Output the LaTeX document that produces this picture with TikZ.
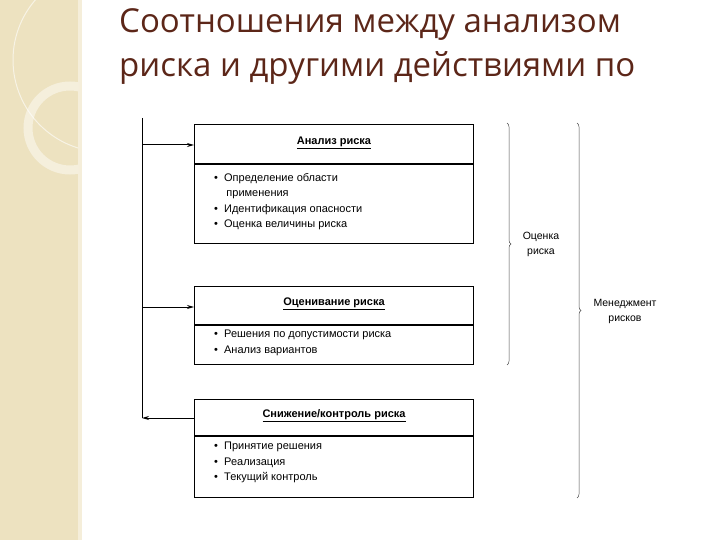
\documentclass[tikz,border=0pt]{standalone}
\usepackage{fontspec}
\setmainfont{Liberation Sans}
\newfontfamily\titlefont{Open Sans}
\usetikzlibrary{decorations.pathreplacing,arrows.meta}
\definecolor{titlec}{RGB}{92,38,24}
\definecolor{panel}{RGB}{237,226,192}
\definecolor{panelb}{RGB}{245,238,218}
\begin{document}
\begin{tikzpicture}[x=1pt,y=-1pt,
  boxr/.style={draw,line width=1.2pt},
  ttl/.style={font=\titlefont\fontsize{33}{38}\selectfont,text=titlec,anchor=west,inner sep=0pt},
  arr/.style={line width=1pt,-{Stealth[length=7pt,width=4pt]}},
  lbl/.style={font=\fontsize{11}{15.5}\selectfont,align=left,anchor=north west,inner sep=0pt},
  hd/.style={font=\fontsize{11}{13}\selectfont\bfseries,inner sep=1pt},
  brc/.style={decorate,decoration={brace,amplitude=4pt},line width=0.5pt,draw=black!70}]
\useasboundingbox (0,0) rectangle (720,540);
\fill[white] (0,0) rectangle (720,540);
\fill[panel] (0,0) rectangle (78,540);
\fill[panelb] (78,0) rectangle (82,540);
\begin{scope}
\clip (0,0) rectangle (78,540);
\draw[white,opacity=0.6,line width=1pt] (105,60) circle (92);
\draw[white,opacity=0.45,line width=9pt] (70,128) circle (42);
\end{scope}
\node[ttl] (t1) at (119,25) {Соотношения между анализом};
\node[ttl] (t2) at (119,68) {риска и другими действиями по};
% boxes
\node[boxr,minimum width=279pt,minimum height=119pt,anchor=north west,inner sep=0pt] (b1) at (194,124) {};
\draw[line width=1.2pt] (194,164) -- (473,164);
\node[hd] (h1) at (334,143) {\underline{Анализ риска}};
\node[lbl] (l1) at (214,173) {•\ \ Определение области\\\ \ \ \ применения\\•\ \ Идентификация опасности\\•\ \ Оценка величины риска};
\node[boxr,minimum width=279pt,minimum height=78pt,anchor=north west,inner sep=0pt] (b2) at (194,286) {};
\draw[line width=1.2pt] (194,325) -- (473,325);
\node[hd] (h2) at (334,304) {\underline{Оценивание риска}};
\node[lbl] (l2) at (214,330) {•\ \ Решения по допустимости риска\\•\ \ Анализ вариантов};
\node[boxr,minimum width=279pt,minimum height=98pt,anchor=north west,inner sep=0pt] (b3) at (194,399) {};
\draw[line width=1.2pt] (194,436) -- (473,436);
\node[hd] (h3) at (334,416) {\underline{Снижение/контроль риска}};
\node[lbl] (l3) at (214,442) {•\ \ Принятие решения\\•\ \ Реализация\\•\ \ Текущий контроль};
% left line
\coordinate (top) at (142,118);
\coordinate (bot) at (142,418);
\coordinate (a1) at (142,145);
\coordinate (a2) at (142,307);
\draw[line width=1pt] (top) -- (bot);
\draw[arr] (a1) -- (a1 -| b1.west);
\draw[arr] (a2) -- (a2 -| b2.west);
\draw[arr] (bot -| b3.west) -- (bot);
% braces
\coordinate (br1t) at (507,123); \coordinate (br1b) at (507,365);
\coordinate (br2t) at (577,123); \coordinate (br2b) at (577,498);
\draw[brc] (br1t) -- (br1b);
\draw[brc] (br2t) -- (br2b);
\node[font=\fontsize{10.5}{15}\selectfont,align=center] (o1) at (541,244) {Оценка\\риска};
\node[font=\fontsize{10.5}{15}\selectfont,align=center] (o2) at (625,311) {Менеджмент\\рисков};
\end{tikzpicture}
\end{document}
